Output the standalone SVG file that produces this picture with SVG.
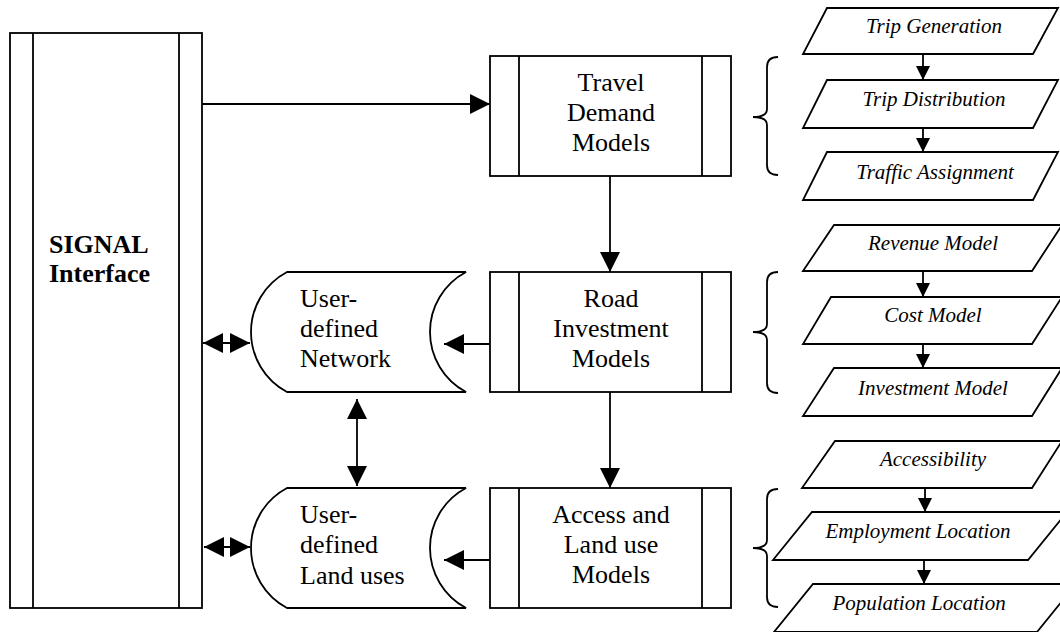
<svg xmlns="http://www.w3.org/2000/svg" width="1060" height="632" viewBox="0 0 1060 632">
<style>
.s{fill:#fff;stroke:#000;stroke-width:1.8}
.ln{fill:none;stroke:#000;stroke-width:1.8}
text{font-family:'Liberation Serif','Times New Roman',Times,serif;fill:#000}
.t{font-size:26px}
.b{font-weight:bold}
.i{font-size:21px;font-style:italic;text-anchor:middle}
.c{text-anchor:middle}
</style>
<defs>
<marker id="ab" viewBox="0 0 20 20" refX="20" refY="10" markerWidth="20" markerHeight="20" markerUnits="userSpaceOnUse" orient="auto-start-reverse"><path d="M0,0 L20,10 L0,20 z" fill="#000"/></marker>
<marker id="as" viewBox="0 0 14 14" refX="14" refY="7" markerWidth="14" markerHeight="14" markerUnits="userSpaceOnUse" orient="auto"><path d="M0,0 L14,7 L0,14 z" fill="#000"/></marker>
</defs>
<rect width="1060" height="632" fill="#fff"/>

<g id="signal">
<rect class="s" x="10" y="33" width="192" height="575"/>
<line class="ln" x1="33" y1="33" x2="33" y2="608"/>
<line class="ln" x1="179" y1="33" x2="179" y2="608"/>
<text class="t b" x="49" y="253">SIGNAL</text>
<text class="t b" x="49" y="282">Interface</text>
</g>

<g id="travel-demand">
<rect class="s" x="490" y="56" width="241" height="120"/>
<line class="ln" x1="519" y1="56" x2="519" y2="176"/>
<line class="ln" x1="702" y1="56" x2="702" y2="176"/>
<text class="t c" x="611" y="91">Travel</text>
<text class="t c" x="611" y="121">Demand</text>
<text class="t c" x="611" y="151">Models</text>
</g>

<g id="road-investment">
<rect class="s" x="490" y="272" width="241" height="120"/>
<line class="ln" x1="519" y1="272" x2="519" y2="392"/>
<line class="ln" x1="702" y1="272" x2="702" y2="392"/>
<text class="t c" x="611" y="307">Road</text>
<text class="t c" x="611" y="337">Investment</text>
<text class="t c" x="611" y="367">Models</text>
</g>

<g id="access-landuse">
<rect class="s" x="490" y="488" width="241" height="120"/>
<line class="ln" x1="519" y1="488" x2="519" y2="608"/>
<line class="ln" x1="702" y1="488" x2="702" y2="608"/>
<text class="t c" x="611" y="523">Access and</text>
<text class="t c" x="611" y="553">Land use</text>
<text class="t c" x="611" y="583">Models</text>
</g>

<g id="user-network">
<path class="s" d="M287,272 L466,272 A68,68 0 0 0 466,392 L287,392 A68,68 0 0 1 287,272 Z"/>
<text class="t" x="300" y="307">User-</text>
<text class="t" x="300" y="337">defined</text>
<text class="t" x="300" y="367">Network</text>
</g>

<g id="user-landuses">
<path class="s" d="M287,488 L466,488 A68,68 0 0 0 466,608 L287,608 A68,68 0 0 1 287,488 Z"/>
<text class="t" x="300" y="523">User-</text>
<text class="t" x="300" y="553">defined</text>
<text class="t" x="300" y="584">Land uses</text>
</g>

<g id="trip-generation">
<path class="s" d="M827,8 L1058,8 L1033,54 L803,54 Z"/>
<text class="i" x="934" y="33">Trip Generation</text>
</g>
<g id="trip-distribution">
<path class="s" d="M827,80 L1058,80 L1033,128 L803,128 Z"/>
<text class="i" x="934" y="106">Trip Distribution</text>
</g>
<g id="traffic-assignment">
<path class="s" d="M827,152 L1058,152 L1033,200 L803,200 Z"/>
<text class="i" x="935" y="179">Traffic Assignment</text>
</g>

<g id="revenue-model">
<path class="s" d="M834,225 L1062,225 L1032,271 L803,271 Z"/>
<text class="i" x="933" y="250">Revenue Model</text>
</g>
<g id="cost-model">
<path class="s" d="M831,297 L1062,297 L1032,344 L803,344 Z"/>
<text class="i" x="933" y="322">Cost Model</text>
</g>
<g id="investment-model">
<path class="s" d="M834,368 L1062,368 L1032,416 L803,416 Z"/>
<text class="i" x="933" y="395">Investment Model</text>
</g>

<g id="accessibility">
<path class="s" d="M835,441 L1062,441 L1032,488 L802,488 Z"/>
<text class="i" x="933" y="466">Accessibility</text>
</g>
<g id="employment-location">
<path class="s" d="M812,512 L1067,512 L1028,560 L773,560 Z"/>
<text class="i" x="918" y="538">Employment Location</text>
</g>
<g id="population-location">
<path class="s" d="M813,584 L1076,584 L1037,632 L774,632 Z"/>
<text class="i" x="919" y="610">Population Location</text>
</g>

<g id="braces">
<path class="ln" d="M778,57 Q767,57 767,67 L767,109 Q767,117 753,117 Q767,117 767,125 L767,165 Q767,175 778,175"/>
<path class="ln" d="M778,272 Q767,272 767,282 L767,324 Q767,332 753,332 Q767,332 767,340 L767,383 Q767,393 778,393"/>
<path class="ln" d="M778,489 Q767,489 767,499 L767,540 Q767,548 753,548 Q767,548 767,556 L767,597 Q767,607 778,607"/>
</g>

<g id="connectors">
<line class="ln" x1="202" y1="104" x2="490" y2="104" marker-end="url(#ab)"/>
<line class="ln" x1="610" y1="176" x2="610" y2="272" marker-end="url(#ab)"/>
<line class="ln" x1="610" y1="392" x2="610" y2="488" marker-end="url(#ab)"/>
<line class="ln" x1="490" y1="344" x2="444" y2="344" marker-end="url(#ab)"/>
<line class="ln" x1="490" y1="560" x2="444" y2="560" marker-end="url(#ab)"/>
<line class="ln" x1="203" y1="343" x2="250" y2="343" marker-start="url(#ab)" marker-end="url(#ab)"/>
<line class="ln" x1="204" y1="547" x2="250" y2="547" marker-start="url(#ab)" marker-end="url(#ab)"/>
<line class="ln" x1="357" y1="399" x2="357" y2="486" marker-start="url(#ab)" marker-end="url(#ab)"/>
<line class="ln" x1="923" y1="54" x2="923" y2="80" marker-end="url(#as)"/>
<line class="ln" x1="923" y1="128" x2="923" y2="152" marker-end="url(#as)"/>
<line class="ln" x1="923" y1="271" x2="923" y2="297" marker-end="url(#as)"/>
<line class="ln" x1="923" y1="344" x2="923" y2="368" marker-end="url(#as)"/>
<line class="ln" x1="925" y1="488" x2="925" y2="512" marker-end="url(#as)"/>
<line class="ln" x1="924" y1="560" x2="924" y2="584" marker-end="url(#as)"/>
</g>
</svg>
